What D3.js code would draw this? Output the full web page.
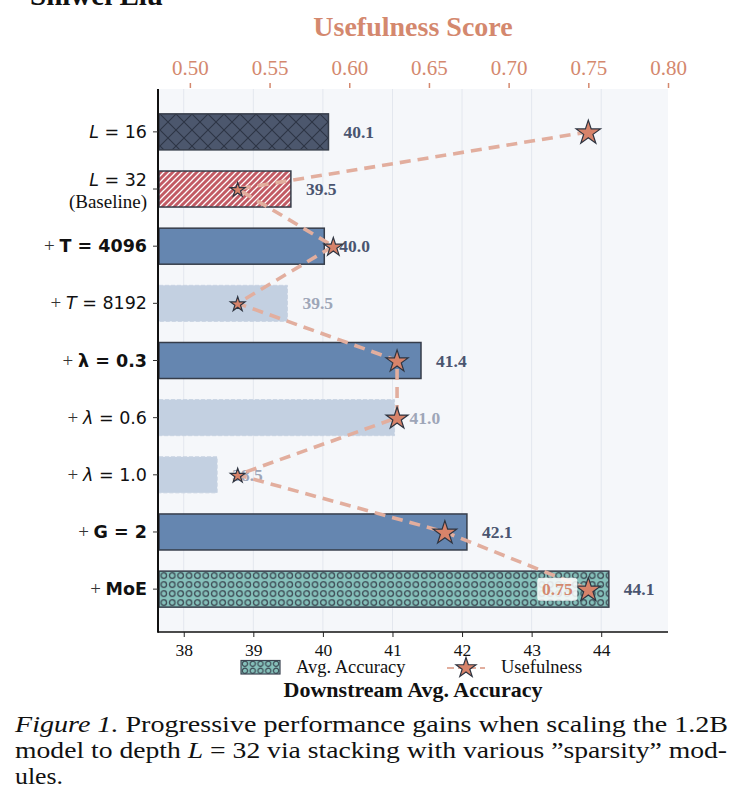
<!DOCTYPE html>
<html lang="en">
<head>
<meta charset="UTF-8">
<title>Usefulness vs Accuracy</title>
<script src="https://d3js.org/d3.v7.min.js"></script>
<style>
  body { margin: 0; background: #fff; }
  svg { display: block; }
  text { fill: #111; }
</style>
</head>
<body>
<svg id="chart" width="739" height="812"></svg>
<script>
// --- data ---
const rows = ["L=16", "L=32", "T=4096", "T=8192", "λ=0.3", "λ=0.6", "λ=1.0", "G=2", "MoE"];
const accuracy = [40.08, 39.54, 40.02, 39.49, 41.41, 41.03, 38.48, 42.07, 44.11];
const usefulness = [0.75, 0.53, 0.59, 0.53, 0.63, 0.63, 0.53, 0.66, 0.75];
const barKind = ["shallow", "baseline", "kept", "dropped", "kept", "dropped", "dropped", "kept", "moe"];
const accTicks = [38, 39, 40, 41, 42, 43, 44];
const useTicks = [0.50, 0.55, 0.60, 0.65, 0.70, 0.75, 0.80];
// tick label pieces: [text, style]
const rowLabels = [
  [["L", "it"], [" = 16", "rm"]],
  [["L", "it"], [" = 32", "rm"]],
  [["+ ", "serif"], ["T = 4096", "bf"]],
  [["+ ", "serif"], ["T", "it"], [" = 8192", "rm"]],
  [["+ ", "serif"], ["λ = 0.3", "bf"]],
  [["+ ", "serif"], ["λ", "it"], [" = 0.6", "rm"]],
  [["+ ", "serif"], ["λ", "it"], [" = 1.0", "rm"]],
  [["+ ", "serif"], ["G = 2", "bf"]],
  [["+ ", "serif"], ["MoE", "bf"]]
];

const serif = "Liberation Serif, Times New Roman, serif";
const sans = "DejaVu Sans, sans-serif";
const salmon = "#d4886e";

const svg = d3.select("#chart");
const pL = 158, pR = 668, pT = 89, pB = 632;

const x = d3.scaleLinear().domain([37.63, 44.96]).range([pL, pR]);
const xu = d3.scaleLinear().domain([0.48, 0.80]).range([pL, pR]);
const y = d3.scaleLinear().domain([-0.75, 8.75]).range([pT, pB]);
const barH = y(0.63) - y(0);
const starR = d3.scaleLinear().domain([0.53, 0.59, 0.63, 0.66, 0.75]).range([7.7, 9.8, 11.6, 12.4, 12.8]);

// patterns
const defs = svg.append("defs");
const p1 = defs.append("pattern").attr("id", "xhatch").attr("patternUnits", "userSpaceOnUse")
  .attr("width", 16).attr("height", 16).attr("y", 2);
p1.append("rect").attr("width", 16).attr("height", 16).attr("fill", "#4c576d");
p1.append("path").attr("d", "M0,0L16,16M0,16L16,0").attr("stroke", "#2c3444").attr("stroke-width", 1.1);

const p2 = defs.append("pattern").attr("id", "diag").attr("patternUnits", "userSpaceOnUse")
  .attr("width", 6).attr("height", 6);
p2.append("rect").attr("width", 6).attr("height", 6).attr("fill", "#c25a64");
p2.append("path").attr("d", "M-1,7L7,-1M-1,1L1,-1M5,7L7,5").attr("stroke", "#fff").attr("stroke-width", 1.3);

const p3 = defs.append("pattern").attr("id", "circ").attr("patternUnits", "userSpaceOnUse")
  .attr("width", 8.4).attr("height", 9).attr("y", y(8) - barH / 2);
p3.append("rect").attr("width", 8.4).attr("height", 9).attr("fill", "#86c1bb");
p3.append("circle").attr("cx", 4.2).attr("cy", 4.5).attr("r", 2.8)
  .attr("fill", "none").attr("stroke", "#3d4b55").attr("stroke-width", 1.3);

const p4 = defs.append("pattern").attr("id", "circLeg").attr("patternUnits", "userSpaceOnUse")
  .attr("width", 7.8).attr("height", 7).attr("x", 241).attr("y", 660);
p4.append("rect").attr("width", 7.8).attr("height", 7).attr("fill", "#86c1bb");
p4.append("circle").attr("cx", 3.9).attr("cy", 3.8).attr("r", 2.6)
  .attr("fill", "none").attr("stroke", "#3d4b55").attr("stroke-width", 1.2);

// header remnant
svg.append("text").attr("x", 30).attr("y", 5).style("font-family", serif)
  .attr("font-weight", "bold").attr("font-size", 29).text("Shiwei Liu");

// plot background + grid
svg.append("rect").attr("x", pL).attr("y", pT).attr("width", pR - pL)
  .attr("height", pB - pT).attr("fill", "#f5f7fa");
svg.append("g").selectAll("line").data(accTicks).join("line")
  .attr("x1", d => x(d)).attr("x2", d => x(d)).attr("y1", pT).attr("y2", pB)
  .attr("stroke", "#e3e7ee").attr("stroke-width", 1);

// bars
const fills = { shallow: "url(#xhatch)", baseline: "url(#diag)", kept: "#6586b0", dropped: "#c3d0e1", moe: "url(#circ)" };
svg.append("g").selectAll("rect").data(rows).join("rect")
  .attr("x", pL + 1)
  .attr("y", (d, i) => y(i) - barH / 2)
  .attr("width", (d, i) => x(accuracy[i]) - pL - 1)
  .attr("height", barH)
  .attr("fill", (d, i) => fills[barKind[i]])
  .attr("stroke", (d, i) => barKind[i] === "dropped" ? "#c8d3e2" : "#363d4a")
  .attr("stroke-width", (d, i) => barKind[i] === "dropped" ? 1 : 1.5)
  .attr("stroke-dasharray", (d, i) => barKind[i] === "dropped" ? "4,2" : null);

// value labels
svg.append("g").selectAll("text").data(rows).join("text")
  .attr("x", (d, i) => x(accuracy[i]) + 15)
  .attr("y", (d, i) => y(i) + 6)
  .style("font-family", serif).attr("font-weight", "bold").attr("font-size", 17.5)
  .style("fill", (d, i) => barKind[i] === "dropped" ? "#9ea6b8" : "#4a5570")
  .text((d, i) => accuracy[i].toFixed(1));

// usefulness line + stars
const line = d3.line().x(d => xu(d[0])).y(d => y(d[1]));
svg.append("path").datum(usefulness.map((u, i) => [u, i]))
  .attr("d", line).attr("fill", "none").attr("stroke", "#e2ae9e")
  .attr("stroke-width", 3.6).attr("stroke-dasharray", "11,7");

const starSym = r => d3.symbol().type(d3.symbolStar).size(r * r / 0.8908130915292852)();
svg.append("g").selectAll("path").data(usefulness).join("path")
  .attr("transform", (u, i) => `translate(${xu(u)},${y(i) + 1})`)
  .attr("d", u => starSym(starR(u)))
  .attr("fill", "#d7836a").attr("stroke", "#2e3440").attr("stroke-width", 1.2)
  .attr("stroke-linejoin", "miter");

// annotation on the last row
const last = usefulness.length - 1;
const ann = svg.append("g").attr("transform", `translate(${xu(usefulness[last]) - 31},${y(last)})`);
ann.append("rect").attr("x", -20).attr("y", -11.5).attr("width", 40).attr("height", 23)
  .attr("rx", 3).attr("fill", "#fff").attr("fill-opacity", 0.85);
ann.append("text").attr("text-anchor", "middle").attr("y", 6).style("font-family", serif)
  .attr("font-weight", "bold").attr("font-size", 17.5).style("fill", salmon)
  .text(usefulness[last].toFixed(2));

// spines
svg.append("line").attr("x1", pL).attr("x2", pR).attr("y1", pB).attr("y2", pB)
  .attr("stroke", "#111").attr("stroke-width", 1.5);
svg.append("line").attr("x1", pL).attr("x2", pL).attr("y1", pT).attr("y2", pB + 0.75)
  .attr("stroke", "#111").attr("stroke-width", 2);

// bottom axis
const gb = svg.append("g").attr("transform", `translate(0,${pB})`)
  .call(d3.axisBottom(x).tickValues(accTicks).tickSize(5).tickPadding(7).tickFormat(d3.format("d")));
gb.select(".domain").remove();
gb.selectAll(".tick line").attr("stroke", "#222").attr("stroke-width", 1);
gb.selectAll(".tick text").style("font-family", serif).attr("font-size", 17.5).style("fill", "#111");

// top axis
const gt = svg.append("g").attr("transform", `translate(0,${pT - 1})`)
  .call(d3.axisTop(xu).tickValues(useTicks).tickSize(5).tickPadding(8).tickFormat(d3.format(".2f")));
gt.select(".domain").remove();
gt.selectAll(".tick line").attr("stroke", salmon).attr("stroke-width", 1.5);
gt.selectAll(".tick text").style("font-family", serif).attr("font-size", 21).style("fill", salmon);

svg.append("text").attr("x", 413).attr("y", 36).attr("text-anchor", "middle")
  .style("font-family", serif).attr("font-weight", "bold").attr("font-size", 28)
  .style("fill", salmon).text("Usefulness Score");

// left ticks and labels
svg.append("g").selectAll("line").data(rows).join("line")
  .attr("x1", pL - 5).attr("x2", pL).attr("y1", (d, i) => y(i)).attr("y2", (d, i) => y(i))
  .attr("stroke", "#333").attr("stroke-width", 1);

const styleOf = {
  rm: { f: sans, w: "normal", s: "normal" },
  it: { f: sans, w: "normal", s: "oblique" },
  bf: { f: sans, w: "bold", s: "normal" },
  serif: { f: serif, w: "normal", s: "normal" }
};
rowLabels.forEach((parts, i) => {
  const ty = i === 1 ? y(i) - 3 : y(i) + 6;
  const t = svg.append("text").attr("x", 147).attr("y", ty).attr("text-anchor", "end")
    .style("white-space", "pre");
  parts.forEach(([s, k]) => {
    const st = styleOf[k];
    t.append("tspan").style("font-family", st.f).attr("font-weight", st.w)
      .attr("font-style", st.s).attr("font-size", k === "serif" ? 19 : 17.5)
      .style("fill", k === "serif" ? "#333" : "#111").text(s);
  });
});
svg.append("text").attr("x", 147).attr("y", y(1) + 19).attr("text-anchor", "end")
  .style("font-family", serif).attr("font-size", 19).text("(Baseline)");

// legend
svg.append("rect").attr("x", 241).attr("y", 660.5).attr("width", 39).attr("height", 13.5)
  .attr("fill", "url(#circLeg)").attr("stroke", "#3b4450").attr("stroke-width", 1.2);
svg.append("text").attr("x", 296).attr("y", 673).style("font-family", serif).attr("font-size", 18.5)
  .text("Avg. Accuracy");
svg.append("line").attr("x1", 447).attr("x2", 485).attr("y1", 668).attr("y2", 668)
  .attr("stroke", "#e2ae9e").attr("stroke-width", 2.2).attr("stroke-dasharray", "7,4");
svg.append("path").attr("transform", "translate(466,668)").attr("d", starSym(10.5))
  .attr("fill", "#d7836a").attr("stroke", "#2e3440").attr("stroke-width", 1.2);
svg.append("text").attr("x", 501).attr("y", 673).style("font-family", serif).attr("font-size", 18.5)
  .text("Usefulness");

svg.append("text").attr("x", 413).attr("y", 697).attr("text-anchor", "middle")
  .style("font-family", serif).attr("font-weight", "bold").attr("font-size", 22)
  .text("Downstream Avg. Accuracy");

// caption: justified lines stretched to the column width
const cap = svg.append("g").style("font-family", serif).attr("font-size", 23);
const c1 = cap.append("text").attr("x", 15).attr("y", 732)
  .attr("textLength", 713).attr("lengthAdjust", "spacingAndGlyphs");
c1.append("tspan").attr("font-style", "italic").text("Figure 1.");
c1.append("tspan").text("  Progressive performance gains when scaling the 1.2B");
const c2 = cap.append("text").attr("x", 15).attr("y", 758)
  .attr("textLength", 712).attr("lengthAdjust", "spacingAndGlyphs");
c2.append("tspan").text("model to depth ");
c2.append("tspan").attr("font-style", "italic").text("L");
c2.append("tspan").text(" = 32 via stacking with various ”sparsity” mod-");
cap.append("text").attr("x", 15).attr("y", 784)
  .attr("textLength", 48).attr("lengthAdjust", "spacingAndGlyphs").text("ules.");
</script>
</body>
</html>
